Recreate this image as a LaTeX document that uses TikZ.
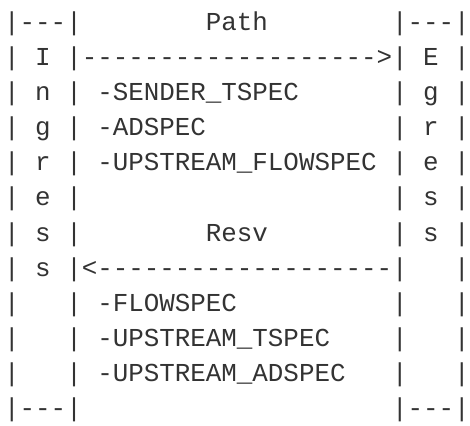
\documentclass[tikz,border=0pt]{standalone}
\usepackage{fontspec}
\setmonofont{Liberation Mono}
\definecolor{ink}{RGB}{51,51,51}
\begin{document}
\begin{tikzpicture}[x=1pt,y=1pt,
  asciirow/.style={anchor=base west,inner sep=0pt,outer sep=0pt,text=ink,
    font=\ttfamily\fontsize{25.86}{35.1}\selectfont}]
\useasboundingbox (0,0) rectangle (470,-425);
\def\rowy#1{-30.4-35.1*#1}
\def\rowx{4.2}
\node[asciirow] (r0)  at (\rowx,{\rowy{0}})  {|---|~~~~~~~~Path~~~~~~~~|---|};
\node[asciirow] (r1)  at (\rowx,{\rowy{1}})  {|~I~|------------------->|~E~|};
\node[asciirow] (r2)  at (\rowx,{\rowy{2}})  {|~n~|~-SENDER\_TSPEC~~~~~~|~g~|};
\node[asciirow] (r3)  at (\rowx,{\rowy{3}})  {|~g~|~-ADSPEC~~~~~~~~~~~~|~r~|};
\node[asciirow] (r4)  at (\rowx,{\rowy{4}})  {|~r~|~-UPSTREAM\_FLOWSPEC~|~e~|};
\node[asciirow] (r5)  at (\rowx,{\rowy{5}})  {|~e~|~~~~~~~~~~~~~~~~~~~~|~s~|};
\node[asciirow] (r6)  at (\rowx,{\rowy{6}})  {|~s~|~~~~~~~~Resv~~~~~~~~|~s~|};
\node[asciirow] (r7)  at (\rowx,{\rowy{7}})  {|~s~|<-------------------|~~~|};
\node[asciirow] (r8)  at (\rowx,{\rowy{8}})  {|~~~|~-FLOWSPEC~~~~~~~~~~|~~~|};
\node[asciirow] (r9)  at (\rowx,{\rowy{9}})  {|~~~|~-UPSTREAM\_TSPEC~~~~|~~~|};
\node[asciirow] (r10) at (\rowx,{\rowy{10}}) {|~~~|~-UPSTREAM\_ADSPEC~~~|~~~|};
\node[asciirow] (r11) at (\rowx,{\rowy{11}}) {|---|~~~~~~~~~~~~~~~~~~~~|---|};
\end{tikzpicture}
\end{document}
